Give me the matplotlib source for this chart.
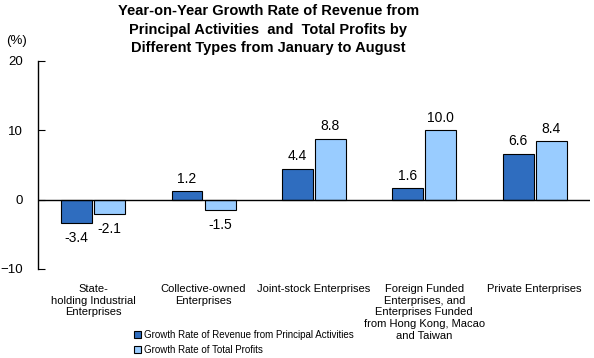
import matplotlib
matplotlib.use("Agg")
import matplotlib.pyplot as plt
import numpy as np

plt.rcParams['font.family'] = ['Liberation Sans', 'DejaVu Sans']

categories = ["State-\nholding Industrial\nEnterprises",
              "Collective-owned\nEnterprises",
              "Joint-stock Enterprises",
              "Foreign Funded\nEnterprises, and\nEnterprises Funded\nfrom Hong Kong, Macao\nand Taiwan",
              "Private Enterprises"]
revenue = [-3.4, 1.2, 4.4, 1.6, 6.6]
profits = [-2.1, -1.5, 8.8, 10.0, 8.4]
series_names = ["Growth Rate of Revenue from Principal Activities",
                "Growth Rate of Total Profits"]

dark = "#2f6dbf"
light = "#99ccff"

fig = plt.figure(figsize=(5.94, 3.58), dpi=100)
ax = fig.add_axes([0.064, 0.249, 0.929, 0.581])

x = np.arange(len(categories))
w = 0.28
b1 = ax.bar(x - 0.15, revenue, w, color=dark, edgecolor="black", linewidth=0.8, label=series_names[0])
b2 = ax.bar(x + 0.15, profits, w, color=light, edgecolor="black", linewidth=0.8, label=series_names[1])

for bars, vals in ((b1, revenue), (b2, profits)):
    for bar, v in zip(bars, vals):
        cx = bar.get_x() + bar.get_width() / 2
        if v >= 0:
            ax.annotate(f"{v:.1f}", (cx, v), xytext=(0, 4), textcoords="offset points",
                        ha="center", va="bottom", fontsize=10)
        else:
            ax.annotate(f"{v:.1f}", (cx, v), xytext=(0, -6), textcoords="offset points",
                        ha="center", va="top", fontsize=10)

ax.set_xlim(-0.5, len(categories) - 0.5)
ax.set_ylim(-10, 20)
ax.set_yticks([-10, 0, 10, 20])
ax.axhline(0, color="black", linewidth=1)
for s in ("top", "right", "bottom"):
    ax.spines[s].set_visible(False)
ax.spines["left"].set_linewidth(1)
ax.tick_params(axis="y", direction="in", length=5, pad=11, labelsize=9.5)
ax.set_xticks(x)
ax.set_xticklabels(categories, fontsize=8, linespacing=1.2, va="top")
ax.tick_params(axis="x", length=0, pad=11)

fig.text(0.01, 0.885, "(%)", fontsize=9.5, ha="left", va="center")
fig.suptitle("Year-on-Year Growth Rate of Revenue from\nPrincipal Activities  and  Total Profits by\nDifferent Types from January to August",
             x=0.452, y=0.988, fontsize=10.5, fontweight="bold", linespacing=1.4)

ax.legend(loc="upper left", bbox_to_anchor=(0.225, 0.078), bbox_transform=fig.transFigure,
          frameon=False, fontsize=7, handlelength=0.8, handleheight=0.8,
          handletextpad=0.3, labelspacing=0.5, borderpad=0, borderaxespad=0)

fig.savefig("out.png", dpi=100)
